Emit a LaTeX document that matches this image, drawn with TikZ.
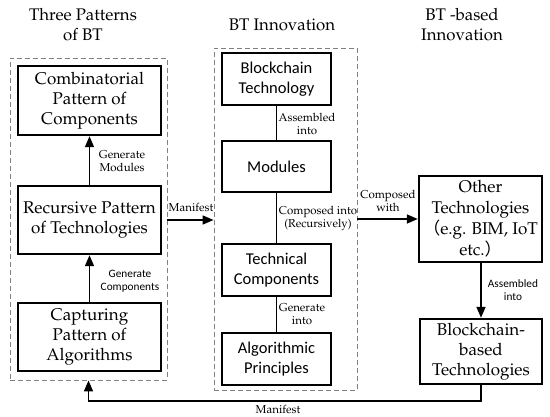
\documentclass[tikz,border=0pt]{standalone}
\usepackage[T1]{fontenc}
\usepackage{fontspec}
\newfontfamily\calfont{Carlito}
\newfontfamily\cjkfont{Noto Sans CJK SC}
\newcommand\palfont{\fontencoding{T1}\fontfamily{ppl}\selectfont}
\usetikzlibrary{arrows.meta}
\tikzset{
  serbox/.style={draw, line width=2.4pt, align=center, inner sep=0pt,
    font=\palfont\fontsize{17}{20}\selectfont},
  sansbox/.style={draw, line width=2.4pt, align=center, inner sep=0pt,
    font=\calfont\fontsize{16.5}{20}\selectfont},
  dashbox/.style={draw=black!50, dashed, line width=0.9pt, inner sep=0pt,
    dash pattern=on 5pt off 3pt},
  title/.style={align=center, font=\palfont\fontsize{16.8}{20}\selectfont},
  serlab/.style={align=center, font=\palfont\fontsize{11.5}{13}\selectfont, inner sep=0pt},
  sanslab/.style={align=center, font=\calfont\fontsize{11.3}{13.5}\selectfont, inner sep=0pt},
  arr/.style={line width=1.5pt, -{Triangle[length=11pt,width=9pt]}},
  link/.style={line width=1.2pt},
}
\begin{document}
\begin{tikzpicture}[x=1pt, y=-1pt]
\useasboundingbox (0,0) rectangle (550,417);
% dashed frames
\node[dashbox, minimum width=157pt, minimum height=322pt] (ld) at (88.5,219) {};
\node[dashbox, minimum width=143pt, minimum height=342pt] (md) at (285.5,219) {};
% titles
\node[title] (t1) at (83,25) {Three Patterns\\of BT};
\node[title] (t2) at (282,25) {BT Innovation};
\node[title] (t3) at (462,25) {BT -based\\Innovation};
% left column
\node[serbox, minimum width=143pt, minimum height=69pt] (c1) at (89.5,100.5) {Combinatorial\\Pattern of\\Components};
\node[serbox, minimum width=143pt, minimum height=68pt] (c2) at (89.5,220) {Recursive Pattern\\of Technologies};
\node[serbox, minimum width=143pt, minimum height=68pt] (c3) at (89.5,337) {Capturing\\Pattern of\\Algorithms};
% middle column
\node[sansbox, minimum width=109pt, minimum height=52pt] (m1) at (276.5,79) {Blockchain\\Technology};
\node[sansbox, minimum width=109pt, minimum height=51pt] (m2) at (276.5,166.5) {Modules};
\node[sansbox, minimum width=109pt, minimum height=52pt] (m3) at (276.5,270) {Technical\\Components};
\node[sansbox, minimum width=109pt, minimum height=52pt] (m4) at (276.5,359) {Algorithmic\\Principles};
% right column
\node[serbox, minimum width=123pt, minimum height=86pt, font=\palfont\fontsize{17}{21}\selectfont] (r1) at (480.5,219) {Other\\Technologies\\{\cjkfont （}e.g. BIM, IoT\\etc.{\cjkfont ）}};
\node[serbox, minimum width=122pt, minimum height=65pt] (r2) at (481,351.5) {Blockchain-\\based\\Technologies};
% connectors
\draw[arr] (c2.north) -- (c1.south);
\draw[arr] (c3.north) -- (c2.south);
\draw[link] (m1.south) -- (m2.north);
\draw[link] (m2.south) -- (m3.north);
\draw[link] (m3.south) -- (m4.north);
\draw[arr] (ld.east |- c2.center) -- (md.west |- c2.center);
\draw[arr] (md.east |- r1.west) -- (r1.west);
\draw[arr] (r1.south -| r2.north) -- (r2.north);
\coordinate (bend) at (481,401);
\draw[arr] (r2.south) -- (bend) -| (ld.south);
% labels
\node[serlab] (l1) at (122,161) {Generate\\Modules};
\node[sanslab] (l2) at (130,281) {Generate\\Components};
\node[serlab] (l3) at (191,207) {Manifest};
\node[serlab] (l4) at (307,124) {Assembled\\into};
\node[serlab] (l5) at (318,218) {Composed into\\(Recursively)};
\node[serlab] (l6) at (302,314) {Generate\\into};
\node[serlab] (l7) at (388,201) {Composed\\with};
\node[sanslab] (l8) at (513,290) {Assembled\\into};
\node[serlab] (l9) at (278,409) {Manifest};
\end{tikzpicture}
\end{document}
